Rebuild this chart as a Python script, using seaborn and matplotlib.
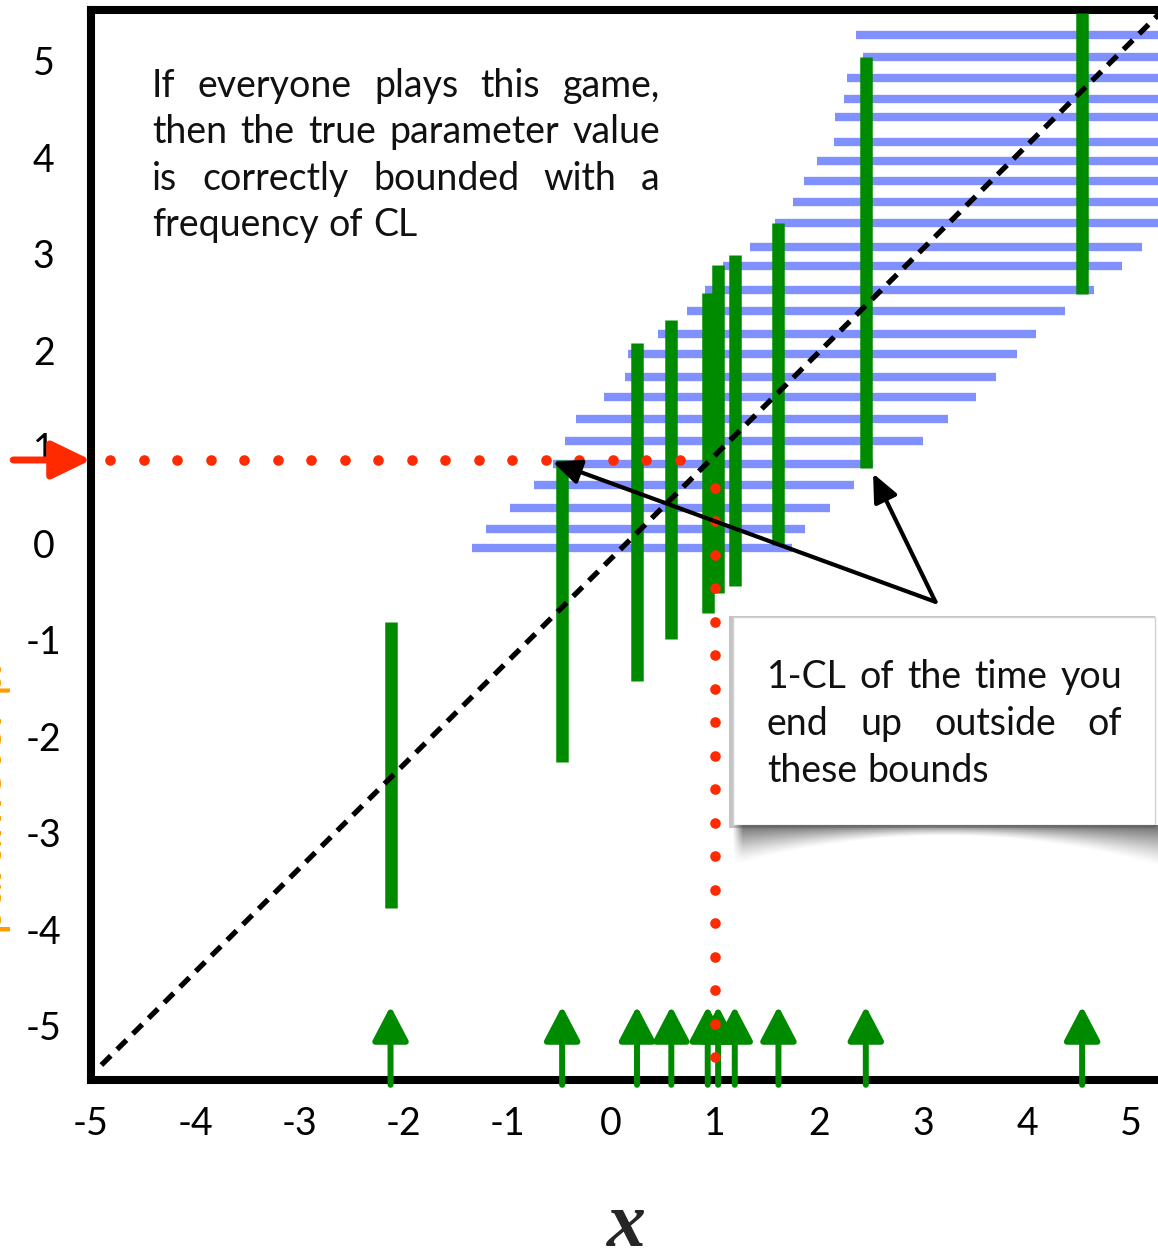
import numpy as np
import pandas as pd
import matplotlib
matplotlib.use("Agg")
import matplotlib.pyplot as plt
from matplotlib.patches import Rectangle
from matplotlib.transforms import ScaledTranslation
import seaborn as sns

# ---------------------------------------------------------------- data
# observed measurements x and the confidence interval on mu read off the belt
x_obs = [-2.12, -0.47, 0.25, 0.58, 0.93, 1.03, 1.19, 1.61, 2.45, 4.53]
ci_low = [-3.64, -2.13, -1.29, -0.86, -0.59, -0.38, -0.31, 0.12, 0.92, 2.72]
ci_high = [-0.68, 1.00, 2.21, 2.45, 2.73, 3.02, 3.12, 3.46, 5.18, 5.63]

# acceptance intervals in x for each hypothesised mu (the confidence belt)
belt_mu = [5.40, 5.18, 4.96, 4.74, 4.55, 4.30, 4.10, 3.89, 3.67, 3.46, 3.21, 3.01,
           2.76, 2.54, 2.31, 2.10, 1.86, 1.65, 1.42, 1.20, 0.96, 0.74, 0.50, 0.29, 0.09]
belt_lo = [2.36, 2.42, 2.27, 2.24, 2.15, 2.14, 1.98, 1.86, 1.75, 1.58, 1.34, 1.08,
           0.90, 0.73, 0.45, 0.16, 0.13, -0.07, -0.34, -0.44, -0.56, -0.74, -0.97, -1.20, -1.34]
belt_hi = [7.20, 7.00, 6.70, 6.50, 6.30, 6.10, 5.90, 5.75, 5.55, 5.32, 5.11, 4.91,
           4.64, 4.37, 4.09, 3.90, 3.70, 3.51, 3.24, 3.00, 2.52, 2.34, 2.11, 1.87, 1.74]

# the x = mu diagonal
diag_x = [-4.90, 5.40]
diag_y = [-5.27, 5.76]

# true parameter value
mu_true = 1.0
x_true = 1.0

ticks = [-5, -4, -3, -2, -1, 0, 1, 2, 3, 4, 5]
tick_labels = ["-5", "-4", "-3", "-2", "-1", "0", "1", "2", "3", "4", "5"]

text_top = ["If everyone plays this game,",
            "then the true parameter value",
            "is correctly bounded with a",
            "frequency of CL"]
text_box = ["1-CL of the time you",
            "end up outside of",
            "these bounds"]

# ---------------------------------------------------------------- style
W, H, DPI = 1158, 1251, 100
BLUE = "#8090ff"
GREEN = "#008a00"
RED = "#ff2a00"
ORANGE = "#ff9a00"

sns.set_theme(style="white")
plt.rcParams["font.family"] = ["Lato", "DejaVu Sans"]
plt.rcParams["axes.unicode_minus"] = False

fig = plt.figure(figsize=(W / DPI, H / DPI), dpi=DPI)
fig.patch.set_facecolor("white")

XMIN, XMAX = -5.0, 5.4
YMIN, YMAX = -5.425, 5.663
PX_X, PX_Y = 104.0, 96.5          # pixels per data unit
ax = fig.add_axes([91 / W, (H - 1080) / H, (XMAX - XMIN) * PX_X / W, (YMAX - YMIN) * PX_Y / H])
ax.set_xlim(XMIN, XMAX)
ax.set_ylim(YMIN, YMAX)
ax.set_facecolor("white")

# ---------------------------------------------------------------- belt
belt_df = pd.DataFrame({
    "seg": np.repeat(np.arange(len(belt_mu)), 2),
    "x": np.ravel(np.column_stack([belt_lo, belt_hi])),
    "mu": np.repeat(belt_mu, 2),
})
sns.lineplot(data=belt_df, x="x", y="mu", units="seg", estimator=None, sort=False,
             color=BLUE, lw=6.0, solid_capstyle="butt", ax=ax, zorder=2)

# ---------------------------------------------------------------- confidence intervals
ci_df = pd.DataFrame({
    "seg": np.repeat(np.arange(len(x_obs)), 2),
    "x": np.repeat(x_obs, 2),
    "mu": np.ravel(np.column_stack([ci_low, ci_high])),
})
sns.lineplot(data=ci_df, x="x", y="mu", units="seg", estimator=None, sort=False,
             orient="y", color=GREEN, lw=9.0, solid_capstyle="butt", ax=ax, zorder=3)

# measurement arrows on the x axis
for xv in x_obs:
    ax.annotate("", xy=(xv, -4.66), xytext=(xv, YMIN - 0.05),
                arrowprops=dict(arrowstyle="-|>,head_length=1.05,head_width=0.55",
                                mutation_scale=20, lw=4.3, color=GREEN,
                                shrinkA=0, shrinkB=0),
                annotation_clip=False, zorder=4)

# ---------------------------------------------------------------- diagonal
diag_df = pd.DataFrame({"x": diag_x, "mu": diag_y})
sns.lineplot(data=diag_df, x="x", y="mu", color="black", lw=3.8, ax=ax,
             dashes=False, zorder=5)
ax.lines[-1].set_dashes((2.5, 1.7))
ax.lines[-1].set_dash_capstyle("butt")

# ---------------------------------------------------------------- true value guides
# dotted guides: one dot every 33.5 px, running from the axis to the true value
step = 33.5
hx = np.arange(XMIN + 19 / PX_X, x_true - 0.2, step / PX_X)
vy = np.arange(mu_true - 28 / PX_Y, YMIN + 0.1, -step / PX_Y)
dots = pd.DataFrame({
    "x": np.concatenate([hx, np.full(len(vy), x_true)]),
    "mu": np.concatenate([np.full(len(hx), mu_true), vy]),
})
sns.scatterplot(data=dots, x="x", y="mu", color=RED, s=58, linewidth=0,
                ax=ax, zorder=6, legend=False)
ax.annotate("", xy=(XMIN, mu_true), xytext=(-56, 0), textcoords="offset points",
            arrowprops=dict(arrowstyle="-|>,head_length=1.2,head_width=0.58",
                            mutation_scale=20, lw=5, color=RED,
                            shrinkA=0, shrinkB=0),
            annotation_clip=False, zorder=7)

# ---------------------------------------------------------------- callout arrows
origin = (3.12, -0.47)
for tip in [(x_obs[1] - 0.09, ci_high[1] - 0.02), (x_obs[8] + 0.07, ci_low[8] - 0.06)]:
    ax.annotate("", xy=tip, xytext=origin,
                arrowprops=dict(arrowstyle="-|>,head_length=0.85,head_width=0.38",
                                mutation_scale=20, lw=3.0, color="black",
                                shrinkA=0, shrinkB=0),
                zorder=8)

# ---------------------------------------------------------------- axes frame
ax.set_xticks(ticks)
ax.set_xticklabels(tick_labels)
ax.set_yticks(ticks)
ax.set_yticklabels(tick_labels)
ax.tick_params(axis="both", length=0, labelsize=27, colors="black")
ax.tick_params(axis="x", pad=19)
ax.tick_params(axis="y", pad=34)
lift = ScaledTranslation(0, 13 / DPI, fig.dpi_scale_trans)
for t in ax.get_yticklabels():
    t.set_ha("center")
    t.set_transform(t.get_transform() + lift)
for side in ["left", "bottom", "top"]:
    ax.spines[side].set_visible(True)
    ax.spines[side].set_color("black")
    ax.spines[side].set_linewidth(5.8)
ax.spines["right"].set_visible(False)
ax.set_xlabel("")
ax.set_ylabel("")

# ---------------------------------------------------------------- labels
fig.text(626 / W, 1 - 1228 / H, "x", family="Liberation Serif", style="italic",
         weight="bold", fontsize=56, ha="center", va="center")
fig.text(11 / W, 1 - 800 / H, "parameter μ", rotation=90, color=ORANGE,
         fontsize=36, ha="right", va="center")

# ---------------------------------------------------------------- callout box
fig.add_artist(Rectangle((729 / W, 1 - 828 / H), 426 / W, 212 / H,
                         transform=fig.transFigure, facecolor="#8a8a8a",
                         edgecolor="none", alpha=0.5, zorder=9))
fig.add_artist(Rectangle((733 / W, 1 - 825 / H), 422 / W, 208 / H,
                         transform=fig.transFigure, facecolor="white",
                         edgecolor="#d0d0d0", lw=1.0, zorder=10))

# curled shadow beneath the box
sh_x0, sh_x1, sh_y0, sh_y1 = 733, 1158, 825, 875
xs = np.arange(sh_x0, sh_x1) + 0.5
ys = np.arange(sh_y0, sh_y1) + 0.5
XX, YY = np.meshgrid(xs, ys)
depth = 11 + 30 * ((XX - 945) / 212) ** 2
d = (YY - sh_y0) / depth
alpha = 0.85 * np.clip(1 - d, 0, 1) ** 1.3
alpha *= np.clip((XX - sh_x0) / 10, 0, 1)
rgba = np.zeros(XX.shape + (4,))
rgba[..., :3] = 0.32
rgba[..., 3] = alpha
sax = fig.add_axes([sh_x0 / W, 1 - sh_y1 / H, (sh_x1 - sh_x0) / W, (sh_y1 - sh_y0) / H],
                   zorder=11)
sax.imshow(rgba, aspect="auto", interpolation="bilinear")
sax.set_axis_off()

# ---------------------------------------------------------------- justified text
renderer = fig.canvas.get_renderer()


def justified(lines, x0, x1, baselines, size, z):
    space = 0.27 * size * DPI / 72
    for k, (line, yb) in enumerate(zip(lines, baselines)):
        words = line.split()
        items = [fig.text(0, 1 - yb / H, w, fontsize=size, va="baseline", ha="left",
                          color="#111111", zorder=z) for w in words]
        widths = [t.get_window_extent(renderer).width for t in items]
        if k == len(lines) - 1 or len(words) == 1:
            gap = space
        else:
            gap = (x1 - x0 - sum(widths)) / (len(words) - 1)
        xpos = x0
        for t, wd in zip(items, widths):
            t.set_x(xpos / W)
            xpos += wd + gap


justified(text_top, 152, 660, [97, 143, 190, 236], 27, 12)
justified(text_box, 767, 1122, [688, 735, 782], 27, 12)

fig.savefig("out.png", dpi=DPI, facecolor="white")
